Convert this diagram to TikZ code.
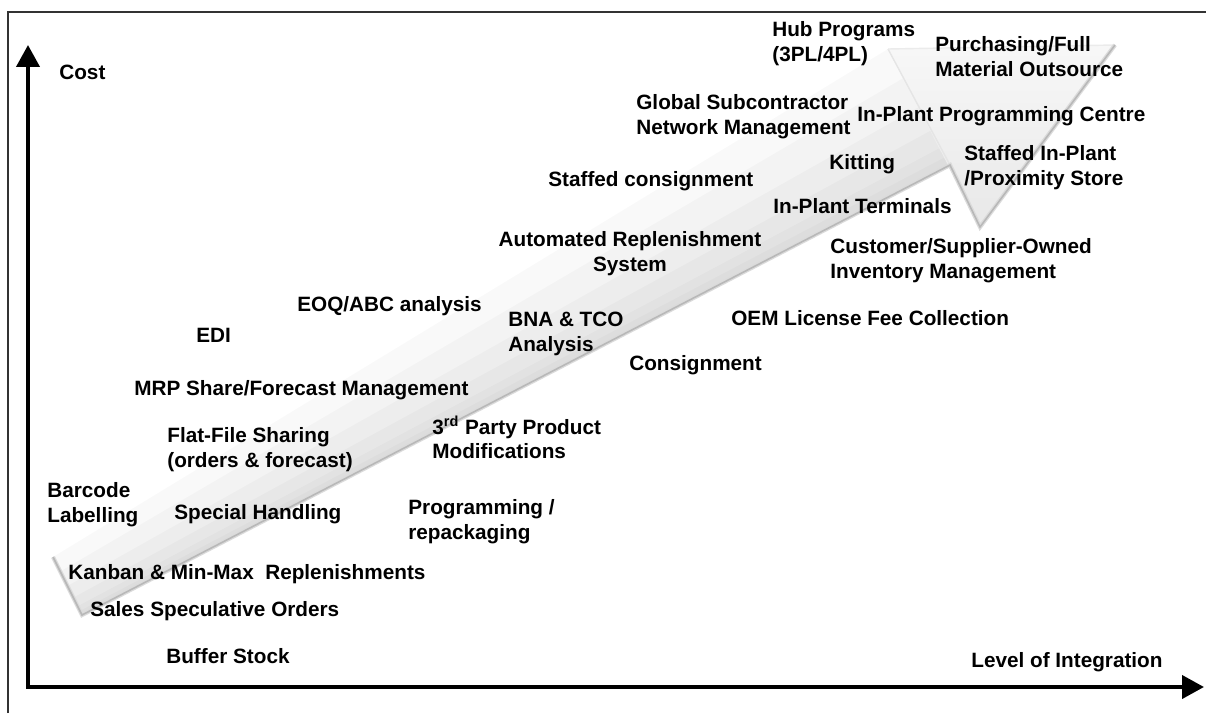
\documentclass[tikz,border=0pt]{standalone}
\usepackage{fontspec}
\setmainfont{Liberation Sans}
\usetikzlibrary{arrows.meta}
\usetikzlibrary{calc,positioning}

\tikzset{
    lbl/.style={font=\fontsize{11.8}{14.2}\selectfont\bfseries, inner sep=0pt, anchor=west, align=left},
    axis/.style={line width=0.08cm},
    frame/.style={line width=0.6pt, black!80},
}

\begin{document}
\begin{tikzpicture}[x=0.02cm, y=-0.02cm, >={Triangle[length=0.44cm,width=0.46cm]}]

    \useasboundingbox (0,0) rectangle (1206,713);
    \draw[frame] (8,713) -- (8,12) -- (1206,12);

    % grey arrow behind the labels
    \coordinate (TT) at (53,557);
    \coordinate (TB) at (82,615);
    \coordinate (SL) at (950,165);
    \coordinate (HL) at (888,49);
    \coordinate (HR) at (1115,45);
    \coordinate (HT) at (980,227);

    \foreach \f in {1,0.75,0.5,0.3,0.15,0.07}
        \fill[black, opacity=0.022] (TB) -- (SL) -- ($(SL)!\f!(HL)$) -- ($(TB)!\f!(TT)$) -- cycle;
    \shade[top color=black!3, bottom color=black!9] (HL) -- (HR) -- (HT) -- cycle;
    \draw[black!10, line width=0.8pt] (HL) -- (SL);
    \draw[black!8, line width=0.8pt] (HL) -- (HR);
    \draw[black!14, line width=2.4pt] (TT) -- (TB) -- (SL) -- (HT) -- (HR);
    \draw[black!28, line width=0.9pt] (TT) -- (TB) -- (SL) -- (HT) -- (HR);

    % axes
    \coordinate (O) at (28,687);
    \coordinate (Y) at (28,45);
    \coordinate (X) at (1204,687);
    \draw[axis, <->] (Y) -- (O) -- (X);

    \node[lbl] (cost) at (59,72) {Cost};
    \node[lbl] (level) at (971,662) {Level of Integration};

    \node[lbl] (hub) at (772,43.5) {Hub Programs\\(3PL/4PL)};
    \node[lbl] (purch) at (935,56.5) {Purchasing/Full\\Material Outsource};
    \node[lbl] (global) at (636,116.5) {Global Subcontractor\\Network Management};
    \node[lbl] (progcentre) at (857,116) {In-Plant Programming Centre};
    \node[lbl] (kitting) at (829,164) {Kitting};
    \node[lbl] (proximity) at (964,167.5) {Staffed In-Plant\\/Proximity Store};
    \node[lbl] (staffcons) at (548,181) {Staffed consignment};
    \node[lbl] (terminals) at (773,206) {In-Plant Terminals};
    \node[lbl, anchor=center, align=center] (autorep) at (630,253.5) {Automated Replenishment\\System};
    \node[lbl] (custowned) at (830,260.5) {Customer/Supplier-Owned\\Inventory Management};
    \node[lbl] (eoq) at (297,306) {EOQ/ABC analysis};
    \node[lbl] (bna) at (508,333.5) {BNA \& TCO\\Analysis};
    \node[lbl] (oem) at (731,318) {OEM License Fee Collection};
    \node[lbl] (edi) at (196,335) {EDI};
    \node[lbl] (consign) at (629,365) {Consignment};
    \node[lbl] (mrp) at (134,390) {MRP Share/Forecast Management};
    \node[lbl] (thirdparty) at (432,437.5) {3\textsuperscript{rd} Party Product\\Modifications};
    \node[lbl] (flatfile) at (167,449.5) {Flat-File Sharing\\(orders \& forecast)};
    \node[lbl] (barcode) at (47,504.5) {Barcode\\Labelling};
    \node[lbl] (special) at (174,514) {Special Handling};
    \node[lbl] (repack) at (408,521.5) {Programming /\\repackaging};
    \node[lbl] (kanban) at (68,574) {Kanban \& Min-Max~~Replenishments};
    \node[lbl] (sales) at (90,611) {Sales Speculative Orders};
    \node[lbl] (buffer) at (166,656) {Buffer Stock};

\end{tikzpicture}
\end{document}
